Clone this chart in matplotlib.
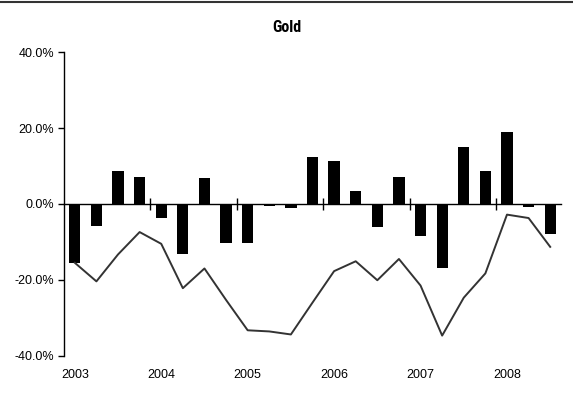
import matplotlib
matplotlib.use("Agg")
import matplotlib.pyplot as plt
from matplotlib.ticker import FuncFormatter
from matplotlib.lines import Line2D
import numpy

plt.rcParams['font.family'] = ['Liberation Sans', 'DejaVu Sans']
plt.rcParams['axes.unicode_minus'] = False

# quarterly values, 2003 Q1 .. 2008 Q3
bar_values = [-15.5, -5.8, 8.8, 7.1, -3.7, -13.1, 6.8, -10.4,
              -10.4, -0.4, -1.1, 12.5, 11.3, 3.3, -6.1, 7.2,
              -8.4, -16.8, 15.1, 8.7, 19.1, -0.9, -8.0]
line_values = [-15.5, -20.4, -13.3, -7.4, -10.5, -22.2, -17.0, -25.3,
               -33.3, -33.6, -34.4, -26.0, -17.7, -15.1, -20.1, -14.5,
               -21.5, -34.7, -24.7, -18.3, -2.8, -3.7, -11.3]
year_labels = ['2003', '2004', '2005', '2006', '2007', '2008']
y_ticks = [-40, -20, 0, 20, 40]

fig = plt.figure(figsize=(5.73, 4.01), dpi=100)
ax = fig.add_axes([64 / 573, 1 - 355.7 / 401, (561 - 64) / 573, (355.7 - 52.3) / 401])

x = numpy.arange(len(bar_values))
ax.bar(x, bar_values, width=0.52, color='black', zorder=2)
ax.plot(x, line_values, color='#333333', linewidth=1.4, zorder=3)

ax.set_xlim(-0.5, len(bar_values) - 0.5)
ax.set_ylim(-40, 40)

# y axis
ax.set_yticks(y_ticks)
ax.yaxis.set_major_formatter(FuncFormatter(lambda v, p: '%.1f%%' % v))
ax.tick_params(axis='y', direction='out', length=4, width=1, labelsize=9, pad=3)
ax.spines['left'].set_linewidth(1)

# x axis crosses at zero, year ticks between groups
ax.spines['bottom'].set_position(('data', 0))
ax.spines['bottom'].set_linewidth(1)
ax.spines['top'].set_visible(False)
ax.spines['right'].set_visible(False)
ax.set_xticks(numpy.arange(4, len(bar_values), 4) - 0.5)
ax.set_xticklabels([])
ax.tick_params(axis='x', direction='inout', length=8, width=1)

for i, lab in enumerate(year_labels):
    ax.text(i * 4, -0.045, lab, transform=ax.get_xaxis_transform(),
            ha='center', va='top', fontsize=9)

t = fig.text(0.5, 1 - 27.5 / 401, 'Gold', ha='center', va='center',
             fontsize=11.5, fontweight='bold',
             family=['Liberation Sans Narrow', 'Roboto Condensed', 'Liberation Sans'])

# top border line
fig.add_artist(Line2D([0, 1], [1 - 1.5 / 401, 1 - 1.5 / 401],
                      transform=fig.transFigure, color='#333333', linewidth=1.5))

fig.savefig('out.png', dpi=100)
